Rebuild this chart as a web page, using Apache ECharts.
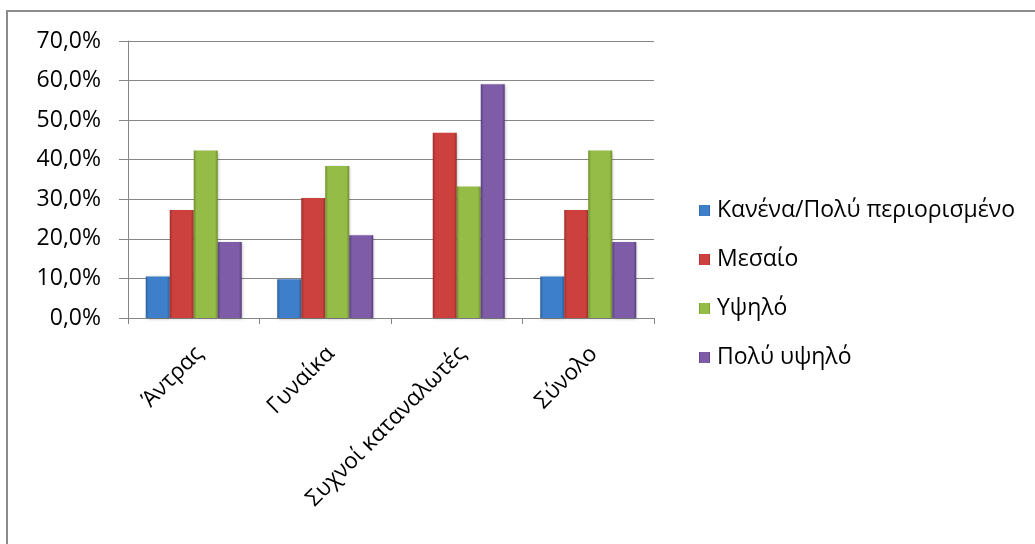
<!DOCTYPE html>
<html>
<head>
<meta charset="utf-8">
<script src="https://cdn.jsdelivr.net/npm/echarts@6/dist/echarts.min.js"></script>
<style>
  html, body { margin: 0; padding: 0; background: #ffffff; }
  #chart { width: 1035px; height: 544px; }
</style>
</head>
<body>
<div id="chart"></div>
<script>
// Categories along the x axis
const categories = ['Άντρας', 'Γυναίκα', 'Συχνοί καταναλωτές', 'Σύνολο'];

// Percentages for each level
const seriesNames = ['Κανένα/Πολύ περιορισμένο', 'Μεσαίο', 'Υψηλό', 'Πολύ υψηλό'];
const limitedValues = [10.5, 9.8, 0, 10.5];
const mediumValues = [27.3, 30.3, 46.8, 27.3];
const highValues = [42.3, 38.4, 33.2, 42.3];
const veryHighValues = [19.2, 20.9, 59.1, 19.2];

// Y axis range (percent)
const yMin = 0, yMax = 70, yStep = 10;

// Bevelled bar look: darker edges, lighter middle
function bevel(edge, mid) {
  return new echarts.graphic.LinearGradient(0, 0, 1, 0, [
    { offset: 0, color: edge },
    { offset: 0.12, color: mid },
    { offset: 0.88, color: mid },
    { offset: 1, color: edge }
  ]);
}
const palette = [
  bevel('#2d5f9a', '#3d7fca'),
  bevel('#9c2f2c', '#cc403d'),
  bevel('#6f8f2c', '#95bc47'),
  bevel('#583e7e', '#7e5ca7')
];

const valueSets = [limitedValues, mediumValues, highValues, veryHighValues];

const fontFamily = '"Open Sans", "Noto Sans", sans-serif';
const pct = v => v.toFixed(1).replace('.', ',') + '%';

const chart = echarts.init(document.getElementById('chart'), null, { renderer: 'canvas' });

chart.setOption({
  animation: false,
  backgroundColor: '#ffffff',
  textStyle: { fontFamily: fontFamily, color: '#000000' },
  graphic: [{
    type: 'rect',
    shape: { x: 7, y: 11, width: 1100, height: 600 },
    style: { fill: 'none', stroke: '#8c8c8c', lineWidth: 2 },
    silent: true
  }],
  grid: { left: 128, right: 381, top: 41, bottom: 226, containLabel: false },
  legend: {
    orient: 'vertical',
    left: 694,
    top: 194,
    itemWidth: 11,
    itemHeight: 11,
    itemGap: 26,
    icon: 'rect',
    textStyle: { fontFamily: fontFamily, fontSize: 23, color: '#000000', padding: [0, 0, 0, 2] },
    data: seriesNames
  },
  xAxis: {
    type: 'category',
    data: categories,
    axisLine: { lineStyle: { color: '#868686', width: 1 } },
    axisTick: { show: true, length: 6, lineStyle: { color: '#868686' }, alignWithLabel: false },
    axisLabel: {
      rotate: 45,
      margin: 38,
      padding: [0, -8, 0, 0],
      interval: 0,
      fontSize: 22.5,
      color: '#000000',
      fontFamily: fontFamily
    }
  },
  yAxis: {
    type: 'value',
    min: yMin,
    max: yMax,
    interval: yStep,
    axisLine: { show: true, lineStyle: { color: '#868686', width: 1 } },
    axisTick: { show: true, inside: false, length: 9, lineStyle: { color: '#868686' } },
    splitLine: { lineStyle: { color: '#868686', width: 1 } },
    axisLabel: {
      formatter: pct,
      margin: 27,
      fontSize: 23,
      color: '#000000',
      fontFamily: fontFamily
    }
  },
  series: seriesNames.map((name, i) => ({
    name: name,
    type: 'bar',
    data: valueSets[i],
    barGap: '0%',
    barCategoryGap: '27%',
    itemStyle: {
      color: palette[i],
      borderWidth: 0,
      shadowColor: 'rgba(0,0,0,0.25)',
      shadowBlur: 3,
      shadowOffsetX: 1,
      shadowOffsetY: 1
    }
  }))
});
</script>
</body>
</html>
